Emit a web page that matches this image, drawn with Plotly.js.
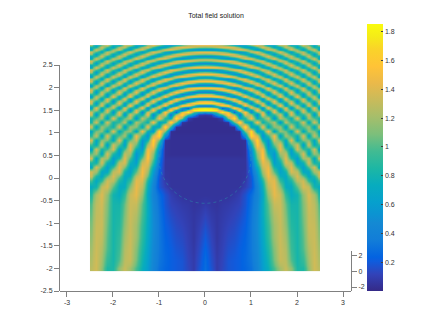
<!DOCTYPE html>
<html>
<head>
<meta charset="utf-8">
<script src="https://cdn.plot.ly/plotly-3.0.1.min.js"></script>
<style>html,body{margin:0;padding:0;background:#fff}#chart{width:436px;height:327px}</style>
</head>
<body>
<div id="chart"></div>
<script>
// Column positions of the left half of the field (the picture is mirror-symmetric about x = 0).
const halfX = [-2.5,-2.375,-2.25,-2.125,-2,-1.875,-1.75,-1.625,-1.5,-1.375,-1.25,-1.125,-1,-0.875,-0.75,-0.625,-0.5,-0.375,-0.25,-0.125,0];
// Row positions relative to the disc centre, upper band (fine) and lower band (coarser).
const upperY = [2.5,2.46,2.42,2.38,2.34,2.3,2.26,2.22,2.18,2.14,2.1,2.06,2.02,1.98,1.94,1.9,1.86,1.82,1.78,1.74,1.7,1.66,1.62,1.58,1.54,1.5,1.46,1.42,1.38,1.34,1.3,1.26,1.22,1.18,1.14,1.1,1.06,1.02,0.98];
const lowerY = [0.9,0.8,0.7,0.6,0.5,0.4,0.3,0.2,0.1,0,-0.1,-0.2,-0.3,-0.4,-0.5,-0.6,-0.8,-1,-1.25,-1.5,-1.75,-2,-2.25,-2.5];
const discCentreY = 0.44;
const discRadius = 1;

// Upper band, one array per column (x = -2.5 ... 0).
const upperColumns = [
[1.19,.77,.67,1.03,1.35,1.17,.75,.67,1.05,1.36,1.16,.73,.67,1.05,1.36,1.24,.84,.62,.86,1.26,1.35,1.02,.67,.71,1.1,1.38,1.25,.88,.63,.73,1.1,1.38,1.3,.95,.64,.68,1.02,1.35,1.34],
[.64,.82,1.27,1.33,.91,.63,.86,1.3,1.31,.86,.62,.9,1.34,1.3,.88,.6,.81,1.26,1.38,1.02,.65,.69,1.12,1.4,1.19,.74,.6,.85,1.24,1.41,1.18,.8,.59,.8,1.2,1.42,1.23,.82,.58],
[1.07,1.37,1.14,.7,.72,1.14,1.38,1.05,.64,.76,1.21,1.37,.98,.62,.77,1.21,1.4,1.08,.66,.67,1.1,1.41,1.2,.74,.61,.95,1.33,1.37,1.05,.66,.62,.94,1.34,1.39,1.05,.65,.6,.94,1.35],
[1.34,.93,.62,.88,1.32,1.28,.81,.63,1,1.38,1.19,.71,.66,1.1,1.4,1.19,.72,.63,1,1.37,1.27,.79,.58,.9,1.35,1.34,.95,.6,.66,1.06,1.4,1.33,.92,.59,.69,1.11,1.42,1.3,.86],
[.76,.66,1.07,1.38,1.09,.66,.73,1.21,1.36,.95,.6,.85,1.32,1.31,.85,.6,.88,1.32,1.35,.92,.57,.82,1.29,1.39,.96,.58,.7,1.13,1.45,1.27,.81,.54,.76,1.22,1.46,1.2,.73,.54,.83],
[.73,1.23,1.36,.93,.61,.9,1.34,1.25,.77,.63,1.08,1.41,1.1,.64,.7,1.18,1.42,1.08,.63,.7,1.18,1.43,1.1,.63,.67,1.17,1.45,1.25,.75,.55,.83,1.31,1.45,1.09,.65,.57,1,1.42,1.39],
[1.3,1.3,.81,.63,1.03,1.41,1.13,.64,.74,1.27,1.38,.89,.58,.92,1.38,1.29,.78,.57,.97,1.41,1.29,.76,.58,1,1.43,1.22,.75,.54,.86,1.34,1.43,1.03,.58,.61,1.09,1.47,1.31,.79,.5],
[1.26,.74,.65,1.15,1.39,1,.59,.87,1.36,1.27,.73,.64,1.16,1.43,1.05,.6,.75,1.27,1.42,.94,.55,.8,1.35,1.37,.83,.54,.83,1.33,1.46,1.03,.57,.6,1.12,1.5,1.3,.76,.49,.85,1.38],
[.68,.7,1.22,1.37,.9,.59,.97,1.41,1.16,.62,.74,1.3,1.36,.81,.57,.97,1.42,1.24,.7,.6,1.14,1.46,1.09,.58,.7,1.28,1.46,1.09,.6,.61,1.12,1.5,1.27,.71,.5,.9,1.43,1.43,.87],
[.68,1.22,1.35,.87,.59,1.03,1.44,1.08,.58,.81,1.37,1.28,.7,.64,1.19,1.45,1.03,.55,.78,1.35,1.38,.88,.52,.97,1.47,1.23,.62,.52,1,1.48,1.34,.75,.48,.87,1.45,1.43,.87,.45,.76],
[1.18,1.4,.89,.58,1.03,1.43,1.05,.59,.87,1.39,1.21,.64,.69,1.28,1.38,.86,.55,.95,1.44,1.2,.62,.64,1.24,1.46,.94,.51,.82,1.38,1.42,.88,.5,.78,1.38,1.46,.9,.48,.78,1.41,1.52],
[1.42,.92,.57,1,1.43,1.08,.58,.86,1.39,1.24,.64,.7,1.31,1.37,.76,.55,1.06,1.47,1.09,.55,.76,1.38,1.36,.73,.54,1.13,1.5,1.16,.56,.56,1.19,1.53,1.1,.5,.62,1.28,1.56,1.03,.43],
[1.08,.58,.87,1.4,1.19,.62,.74,1.35,1.31,.69,.65,1.28,1.39,.77,.55,1.09,1.48,1.03,.49,.84,1.47,1.27,.6,.62,1.3,1.46,.87,.48,.87,1.46,1.37,.7,.47,1.04,1.57,1.26,.55,.5,1.2],
[.68,.68,1.28,1.34,.64,.76,1.21,1.41,.8,.56,1.15,1.46,.88,.52,1.03,1.5,1.06,.5,.84,1.46,1.28,.57,.63,1.35,1.44,.74,.49,1.04,1.55,1.18,.48,.62,1.37,1.57,.84,.36,.87,1.65,1.38],
[.56,1.06,1.44,.97,.54,1,1.47,1.03,.52,.94,1.48,1.09,.51,.87,1.49,1.19,.5,.72,1.43,1.35,.6,.6,1.36,1.45,.72,.5,1.14,1.55,.9,.38,.76,1.58,1.42,.55,.45,1.3,1.75,.88,.25],
[.76,1.38,1.27,.63,.73,1.37,1.3,.64,.7,1.35,1.34,.64,.65,1.34,1.37,.68,.58,1.28,1.44,.73,.52,1.2,1.5,.82,.44,1.11,1.58,1,.42,.85,1.56,1.3,.5,.6,1.46,1.62,.6,.28,1.24],
[1.03,1.46,.97,.54,1.03,1.47,.97,.53,1.03,1.48,.97,.52,1.03,1.52,1,.48,.95,1.54,1.03,.45,.94,1.57,1.11,.42,.85,1.6,1.15,.41,.76,1.58,1.32,.45,.58,1.55,1.52,.45,.35,1.5,1.7],
[1.25,1.39,.74,.63,1.28,1.38,.71,.61,1.31,1.38,.68,.62,1.34,1.37,.65,.61,1.37,1.4,.62,.61,1.42,1.4,.57,.58,1.45,1.45,.6,.52,1.37,1.55,.65,.42,1.3,1.66,.72,.25,1.26,1.82,.9],
[1.37,1.27,.61,.75,1.39,1.22,.59,.8,1.43,1.21,.53,.82,1.48,1.16,.5,.84,1.5,1.13,.46,.86,1.55,1.14,.43,.85,1.6,1.12,.4,.84,1.62,1.13,.36,.87,1.7,1.14,.3,1.35,1.82,1,.5],
[1.43,1.15,.55,.87,1.47,1.1,.52,.93,1.49,1.05,.5,.97,1.52,.98,.47,1.04,1.56,.92,.44,1.1,1.58,.84,.43,1.2,1.6,.76,.45,1.3,1.6,.66,.42,1.42,1.65,.55,.38,1.72,1.84,.7,.08],
[1.44,1.11,.55,.91,1.47,1.06,.52,.97,1.49,1,.5,1.03,1.52,.93,.47,1.1,1.55,.86,.44,1.18,1.56,.78,.44,1.26,1.56,.7,.46,1.36,1.56,.6,.45,1.5,1.65,.5,.4,1.78,1.85,.55,.05]
];

// Lower band, one array per row (x = -2.5 ... 0).
const lowerRows = [
[.8,1,1.22,.62,1.42,.75,1.05,1.25,.55,1.28,.95,.72,1.5,.85,.68,1.75,1.1,.1,.02,.02,.02],
[.83,1.36,.62,1.38,.8,.93,1.3,.55,1.26,1,.75,1.52,.65,.8,1.78,1,.05,.02,.02,.02,.02],
[1.36,.65,1.2,1,.78,1.38,.57,1.18,1.14,.68,1.5,.65,.72,1.75,.9,.03,.02,.02,.02,.02,.02],
[.68,1.1,1.15,.67,1.42,.67,1.08,1.16,.63,1.5,.72,.6,1.72,1.1,.03,.02,.02,.02,.02,.02,.02],
[.88,1.3,.62,1.4,.75,1,1.22,.62,1.5,.9,.5,1.35,1.68,.5,.03,.03,.03,.03,.03,.03,.03],
[1.38,.67,1.14,1.1,.68,1.42,.67,1.05,1.33,.55,.8,1.66,1.05,.04,.03,.03,.03,.03,.03,.03,.03],
[.95,.72,1.38,.6,1.35,1,.62,1.42,1.05,.5,1.2,1.58,.72,.04,.03,.03,.03,.03,.03,.03,.03],
[.62,1.36,.8,.95,1.35,.62,.97,1.42,.75,.6,1.5,1.35,.48,.04,.03,.03,.03,.03,.03,.03,.03],
[1.03,1.18,.65,1.38,.85,.62,1.3,1.2,.55,.8,1.58,1.15,.42,.04,.03,.03,.03,.03,.03,.03,.03],
[1.36,.66,1.25,1.2,.6,.85,1.43,.98,.55,1.05,1.58,1.05,.35,.05,.05,.05,.05,.05,.05,.05,.05],
[.85,.8,1.38,.78,.62,1.28,1.38,.78,.62,1.33,1.45,.9,.3,.05,.05,.05,.05,.05,.05,.05,.05],
[.68,1.38,1,.62,.95,1.42,1.1,.65,.82,1.45,1.33,.72,.27,.05,.05,.05,.05,.05,.05,.05,.05],
[1.36,1.2,.68,.7,1.28,1.38,.8,.65,1.02,1.5,1.2,.6,.24,.06,.05,.05,.05,.05,.05,.05,.05],
[1.32,.85,.68,1.05,1.38,1.08,.7,.76,1.28,1.47,1.05,.52,.2,.06,.05,.05,.05,.05,.05,.05,.05],
[.97,.7,.9,1.35,1.28,.85,.7,.92,1.42,1.38,.85,.48,.18,.08,.05,.05,.05,.05,.05,.05,.05],
[.72,.8,1.3,1.38,1.02,.72,.73,1.12,1.45,1.28,.75,.42,.18,.1,.05,.05,.05,.05,.05,.05,.05],
[.85,1.22,1.4,1.15,.8,.73,.92,1.32,1.43,1.15,.68,.42,.28,.17,.1,.07,.05,.05,.05,.05,.05],
[1,1.28,1.36,1.1,.82,.82,1.05,1.33,1.32,1.02,.72,.45,.3,.18,.12,.1,.08,.07,.05,.06,.08],
[1.05,1.3,1.33,1.08,.82,.85,1.1,1.33,1.25,.98,.72,.47,.32,.2,.15,.12,.1,.08,.06,.08,.12],
[1.1,1.32,1.33,1.05,.82,.88,1.15,1.32,1.2,.93,.7,.48,.33,.22,.18,.14,.12,.09,.06,.1,.16],
[1.15,1.33,1.3,1.02,.82,.92,1.2,1.33,1.18,.9,.68,.47,.33,.24,.2,.16,.14,.1,.06,.12,.2],
[1.2,1.34,1.25,1,.82,.95,1.25,1.33,1.12,.85,.65,.45,.33,.25,.22,.18,.16,.11,.07,.14,.24],
[1.24,1.35,1.2,.93,.82,1,1.28,1.32,1.08,.8,.62,.44,.32,.26,.22,.2,.18,.12,.08,.16,.27],
[1.28,1.35,1.15,.85,.85,1.15,1.33,1.2,.98,.75,.6,.42,.3,.25,.22,.2,.18,.13,.08,.18,.28]
];

const xTicks = [-3,-2,-1,0,1,2,3];
const yTicks = [-2.5,-2,-1.5,-1,-0.5,0,0.5,1,1.5,2,2.5];
const zAxisTicks = [-2,0,2];
const colorbarTicks = [0.2,0.4,0.6,0.8,1,1.2,1.4,1.6,1.8];
const zMin = 0, zMax = 1.854;
const parula = [
[0,'rgb(53,42,135)'],[0.063,'rgb(50,67,185)'],[0.111,'rgb(15,92,221)'],[0.127,'rgb(3,99,225)'],
[0.19,'rgb(18,125,216)'],[0.254,'rgb(20,137,211)'],[0.286,'rgb(12,147,210)'],[0.333,'rgb(6,160,205)'],
[0.397,'rgb(7,172,190)'],[0.46,'rgb(29,183,164)'],[0.524,'rgb(66,187,146)'],[0.587,'rgb(124,191,123)'],
[0.651,'rgb(165,190,107)'],[0.714,'rgb(200,187,91)'],[0.778,'rgb(234,185,74)'],[0.841,'rgb(255,195,55)'],
[0.905,'rgb(250,211,41)'],[0.952,'rgb(245,235,24)'],[1,'rgb(249,251,14)']
];

// Build the table the library needs: bottom-to-top rows, mirrored about x = 0.
const halfRows = [];
upperY.forEach((_, r) => halfRows.push(upperColumns.map(col => col[r])));
lowerRows.forEach(row => halfRows.push(row));
const rowY = upperY.concat(lowerY).map(v => v + discCentreY);
const fullX = halfX.concat(halfX.slice(0, -1).reverse().map(v => -v));
const z = halfRows.map(row => row.concat(row.slice(0, -1).reverse())).reverse();
const yAsc = rowY.slice().reverse();
function edges(c){
  const e = [c[0]];
  for (let i = 0; i < c.length - 1; i++) e.push((c[i] + c[i + 1]) / 2);
  e.push(c[c.length - 1]);
  return e;
}

const grey = '#808080', ink = '#333333';
const font = {family:'"Liberation Sans", Arial, sans-serif', size:7, color:ink};
const labels = a => a.map(String);

const traces = [
  {type:'heatmap', x:edges(fullX), y:edges(yAsc), z:z, zmin:zMin, zmax:zMax, zsmooth:'best',
   colorscale:parula, hoverinfo:'skip',
   colorbar:{x:(367-60)/291, xanchor:'left', xpad:0, ypad:0, y:0.5, yanchor:'middle', len:1, lenmode:'fraction',
     thickness:16, thicknessmode:'pixels', outlinewidth:0, ticks:'inside', ticklen:2, tickwidth:1, tickcolor:'#404040',
     tickmode:'array', tickvals:colorbarTicks, ticktext:labels(colorbarTicks), tickfont:font}},
  {type:'scatter', x:[null], y:[null], yaxis:'y2', mode:'none', showlegend:false, hoverinfo:'skip'},
  {type:'scatter', x:[null], y:[null], yaxis:'y3', mode:'none', showlegend:false, hoverinfo:'skip'}
];

const shapes = [
  {type:'circle', xref:'x', yref:'y', x0:-discRadius, x1:discRadius, y0:discCentreY-discRadius, y1:discCentreY+discRadius,
   line:{color:'rgba(40,170,170,0.55)', width:0.7, dash:'dot'}},
  {type:'line', xref:'paper', yref:'paper', x0:(382.5-60)/291, x1:(382.5-60)/291, y0:0, y1:1, line:{color:grey, width:1}}
];
colorbarTicks.forEach(t => shapes.push({type:'line', xref:'paper', yref:'paper',
  x0:(367-60)/291, x1:(369-60)/291, y0:t/zMax, y1:t/zMax, line:{color:'#404040', width:1}}));

const axisStyle = {showgrid:false, zeroline:false, showline:true, linecolor:grey, linewidth:1,
  ticks:'outside', ticklen:5, tickwidth:1, tickcolor:grey, tickfont:font, tickmode:'array', fixedrange:true};

const layout = {
  width:436, height:327, paper_bgcolor:'#fff', plot_bgcolor:'rgba(0,0,0,0)', showlegend:false,
  margin:{l:60, r:85, t:24, b:36, pad:0},
  title:{text:'Total field solution', font:{family:font.family, size:7, color:'#222'}, x:216/436, xanchor:'center', xref:'container', yref:'container', y:1-16/327, yanchor:'middle'},
  xaxis:Object.assign({}, axisStyle, {range:[-3.152,3.174], tickvals:xTicks, ticktext:labels(xTicks), anchor:'y'}),
  yaxis:{visible:false, range:[-2.5,3.407], fixedrange:true},
  yaxis2:Object.assign({}, axisStyle, {domain:[0,226/267], range:[-2.5,2.5], tickvals:yTicks, ticktext:labels(yTicks), anchor:'x', side:'left'}),
  yaxis3:Object.assign({}, axisStyle, {domain:[0,40/267], range:[-2.51,2.6], tickvals:zAxisTicks, ticktext:labels(zAxisTicks), anchor:'free', position:1, side:'right'}),
  shapes:shapes
};

Plotly.newPlot('chart', traces, layout, {staticPlot:true, displayModeBar:false});
</script>
</body>
</html>
